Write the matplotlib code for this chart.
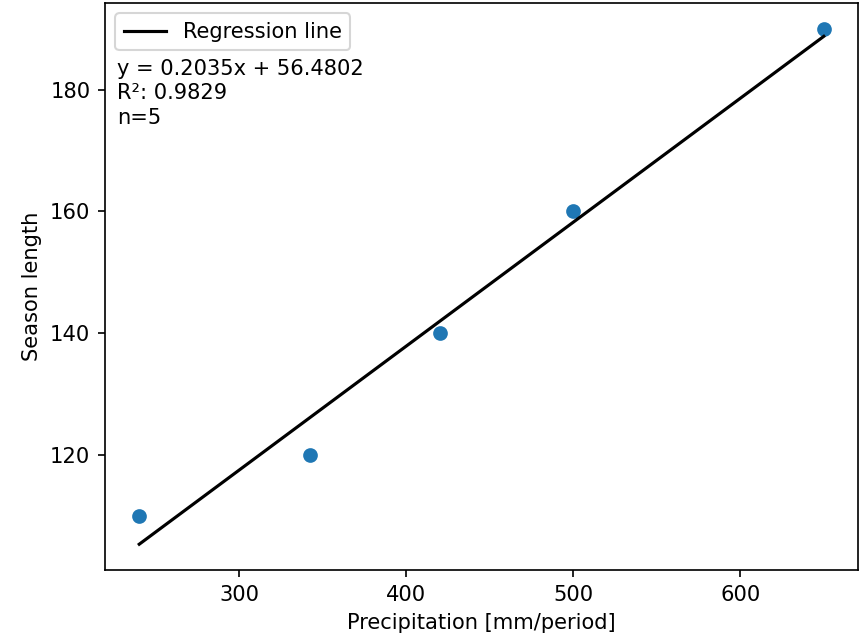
import matplotlib
matplotlib.use("Agg")
import matplotlib.pyplot as plt
import numpy as np

precip = [240, 342, 420, 500, 650]
season = [110, 120, 140, 160, 190]
slope = 0.2035
intercept = 56.4802
r2 = 0.9829

dpi = 151
fig = plt.figure(figsize=(867 / dpi, 637 / dpi), dpi=dpi)
ax = fig.add_axes([105 / 867, 1 - 570 / 637, (858 - 105) / 867, (570 - 3) / 637])

x = np.array(precip)
ax.scatter(precip, season)
ax.plot(x, slope * x + intercept, color="black", label="Regression line")
ax.legend(loc="upper left")
ax.text(0.016, 0.902, f"y = {slope:.4f}x + {intercept:.4f}\nR²: {r2:.4f}\nn={len(precip)}",
        transform=ax.transAxes, va="top", ha="left", linespacing=1.28)
ax.set_xlabel("Precipitation [mm/period]")
ax.set_ylabel("Season length")
ax.set_yticks([120, 140, 160, 180])
fig.savefig("out.png", dpi=dpi)
